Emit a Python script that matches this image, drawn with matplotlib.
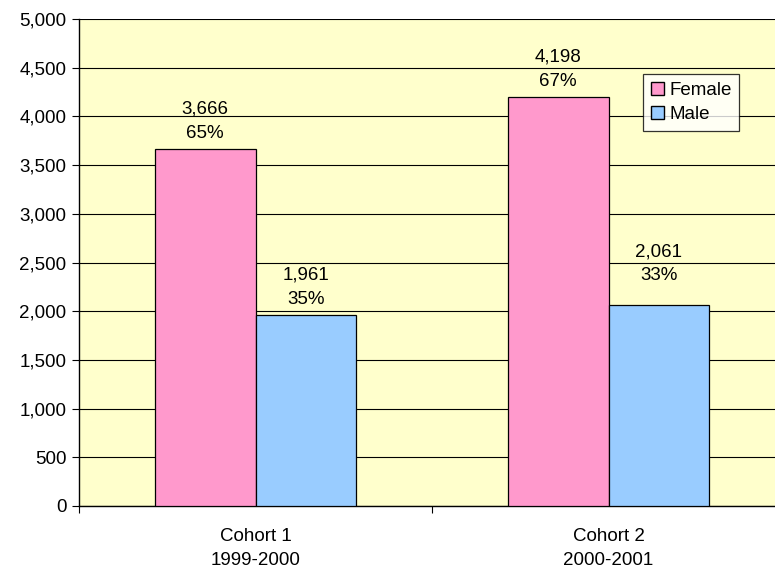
import matplotlib
matplotlib.use("Agg")
import matplotlib.pyplot as plt
import numpy as np
from matplotlib.patches import Patch
from matplotlib.ticker import FuncFormatter, MultipleLocator

plt.rcParams["font.family"] = ["Liberation Sans", "DejaVu Sans"]

# ─── Data ─────────────────────────────────────────────────────────────────────
COHORTS = ["Cohort 1\n1999-2000", "Cohort 2\n2000-2001"]
FEMALE  = [3666, 4198]
MALE    = [1961, 2061]
FEMALE_PCT = [65, 67]
MALE_PCT   = [35, 33]

# label lift above bar top (points), Excel nudged one label upward
FEMALE_LIFT = [20, 20]
MALE_LIFT   = [20, 30]

BG     = "#FFFFCC"
C_FEM  = "#FF99CC"
C_MALE = "#99CCFF"
FS     = 13.5

fig = plt.figure(figsize=(7.75, 5.71), dpi=100)
ax = fig.add_axes([79 / 775, 1 - 506 / 571, 706 / 775, 487 / 571])
ax.set_facecolor(BG)

x = np.arange(len(COHORTS))
w = 0.286
b_f = ax.bar(x - w / 2, FEMALE, w, color=C_FEM, edgecolor="black", linewidth=0.9, zorder=3)
b_m = ax.bar(x + w / 2, MALE, w, color=C_MALE, edgecolor="black", linewidth=0.9, zorder=3)

for bars, vals, pcts, lifts in [(b_f, FEMALE, FEMALE_PCT, FEMALE_LIFT),
                                (b_m, MALE, MALE_PCT, MALE_LIFT)]:
    for rect, v, p, lift in zip(bars, vals, pcts, lifts):
        ax.annotate(f"{v:,}\n{p}%", (rect.get_x() + rect.get_width() / 2, v),
                    xytext=(0, lift), textcoords="offset points",
                    ha="center", va="center", fontsize=FS, linespacing=1.55, zorder=4)

ax.set_ylim(0, 5000)
ax.set_xlim(-0.5, 1.5)
ax.yaxis.set_major_locator(MultipleLocator(500))
ax.yaxis.set_major_formatter(FuncFormatter(lambda v, _: f"{int(v):,}"))
ax.grid(axis="y", color="black", linewidth=0.8, zorder=1)

ax.set_xticks(x)
ax.set_xticklabels(COHORTS, fontsize=FS, linespacing=1.55)
ax.tick_params(axis="x", which="major", length=0, pad=16)
ax.set_xticks([-0.5, 0.5, 1.5], minor=True)
ax.tick_params(axis="x", which="minor", length=5, width=0.8, direction="out")
ax.tick_params(axis="y", labelsize=FS, length=5, width=0.8, direction="out", pad=4)

for s in ("top", "right"):
    ax.spines[s].set_visible(False)
for s in ("left", "bottom"):
    ax.spines[s].set_linewidth(1.0)

handles = [Patch(facecolor=C_FEM, edgecolor="black", label="Female"),
           Patch(facecolor=C_MALE, edgecolor="black", label="Male")]
leg = fig.legend(handles=handles, loc="upper left",
                 bbox_to_anchor=(643 / 775, 1 - 74 / 571), fontsize=FS,
                 frameon=True, fancybox=False, edgecolor="black",
                 handlelength=0.7, handleheight=0.7, handletextpad=0.3,
                 borderpad=0.4, labelspacing=0.4, borderaxespad=0)
leg.get_frame().set_linewidth(0.9)
leg.get_frame().set_facecolor("white")

fig.savefig("out.png", dpi=100)
